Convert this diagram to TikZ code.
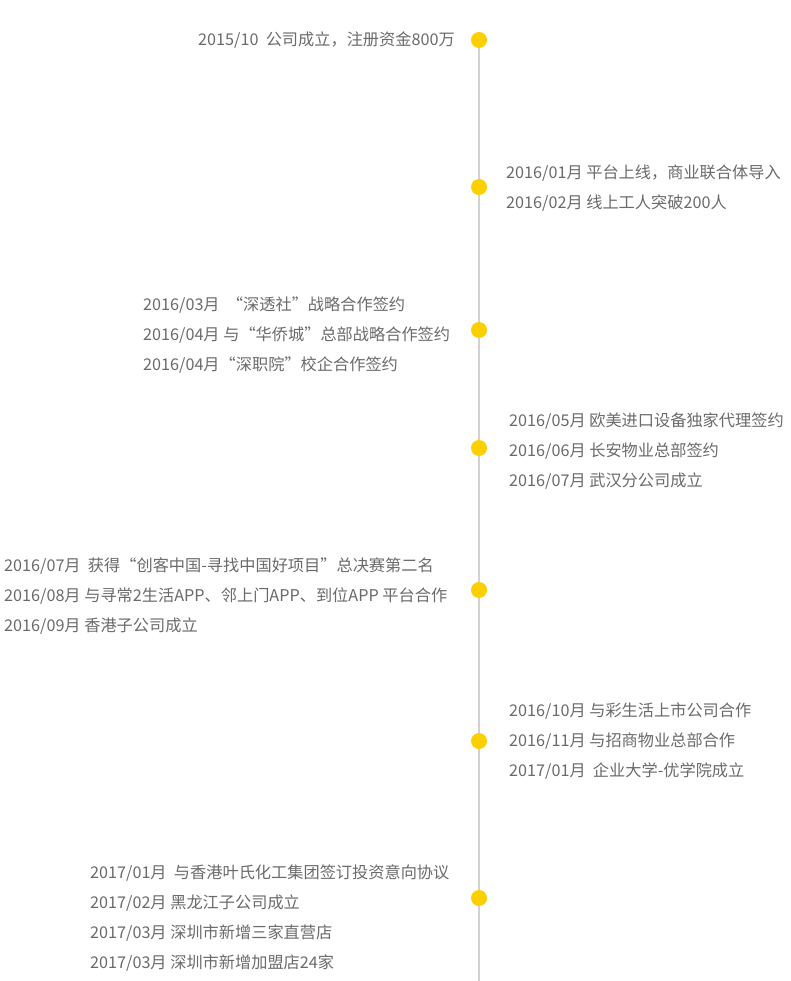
\documentclass[tikz,border=0pt]{standalone}
\usepackage{fontspec}
\setmainfont{Noto Sans CJK SC}
\definecolor{txtc}{HTML}{6A6A6A}
\definecolor{dotc}{HTML}{FBCF00}
\definecolor{linec}{HTML}{D2D2D2}
\begin{document}
\begin{tikzpicture}[x=1pt,y=-1pt,
  item/.style={anchor=base west, inner sep=0pt, text=txtc, font=\fontsize{16.2}{19}\selectfont},
  dot/.style={circle, fill=dotc, minimum size=16pt, inner sep=0pt},
  axis/.style={draw=linec, line width=2pt}]
\useasboundingbox (0,0) rectangle (790,981);
\coordinate (top) at (479,40);
\coordinate (bot) at (479,981);
\draw[axis] (top) -- (bot);
\node[dot] (d1) at (479,40) {};
\node[dot] (d2) at (479,187) {};
\node[dot] (d3) at (479,330) {};
\node[dot] (d4) at (479,448) {};
\node[dot] (d5) at (479,590) {};
\node[dot] (d6) at (479,741) {};
\node[dot] (d7) at (479,898) {};
% group 1
\node[item] (t11) at (198,45.8) {2015/10\ \ 公司成立，注册资金800万};
% group 2
\node[item] (t21) at (506,178.8) {2016/01月 平台上线，商业联合体导入};
\node[item] (t22) at (506,208.8) {2016/02月 线上工人突破200人};
% group 3
\node[item] (t31) at (143,310.8) {2016/03月\ \ “深透社”战略合作签约};
\node[item] (t32) at (143,340.8) {2016/04月 与“华侨城”总部战略合作签约};
\node[item] (t33) at (143,370.8) {2016/04月“深职院”校企合作签约};
% group 4
\node[item] (t41) at (509,426.8) {2016/05月 欧美进口设备独家代理签约};
\node[item] (t42) at (509,456.8) {2016/06月 长安物业总部签约};
\node[item] (t43) at (509,486.8) {2016/07月 武汉分公司成立};
% group 5
\node[item] (t51) at (4,571.8) {2016/07月\ \ 获得“创客中国-寻找中国好项目”总决赛第二名};
\node[item] (t52) at (4,601.8) {2016/08月 与寻常2生活APP、邻上门APP、到位APP 平台合作};
\node[item] (t53) at (4,631.8) {2016/09月 香港子公司成立};
% group 6
\node[item] (t61) at (509,716.8) {2016/10月 与彩生活上市公司合作};
\node[item] (t62) at (509,746.8) {2016/11月 与招商物业总部合作};
\node[item] (t63) at (509,776.8) {2017/01月\ \ 企业大学-优学院成立};
% group 7
\node[item] (t71) at (90,878.8) {2017/01月\ \ 与香港叶氏化工集团签订投资意向协议};
\node[item] (t72) at (90,908.8) {2017/02月 黑龙江子公司成立};
\node[item] (t73) at (90,938.8) {2017/03月 深圳市新增三家直营店};
\node[item] (t74) at (90,968.8) {2017/03月 深圳市新增加盟店24家};
\end{tikzpicture}
\end{document}
